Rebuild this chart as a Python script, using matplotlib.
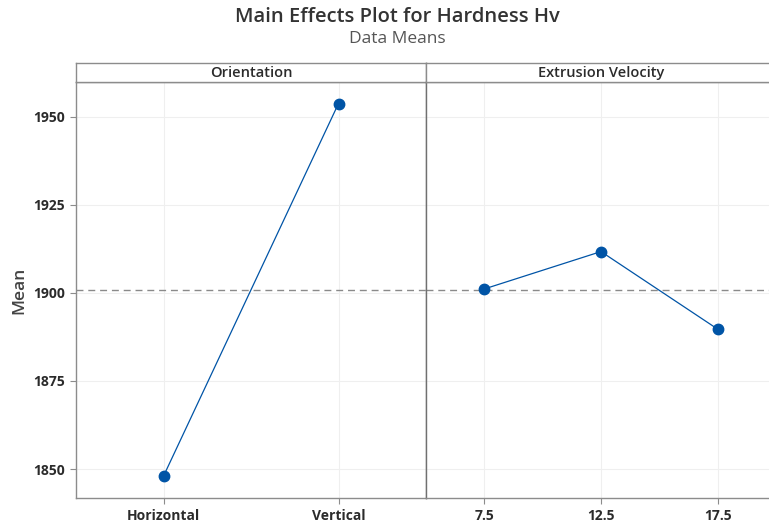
"""Main effects plot for hardness (data means), Minitab style."""

import matplotlib
matplotlib.use("Agg")
import matplotlib.pyplot as plt

plt.rcParams["font.family"] = ["Open Sans", "DejaVu Sans"]

# Data
orientation_levels = ["Horizontal", "Vertical"]
orientation_means = [1848.0, 1953.7]
velocity_levels = ["7.5", "12.5", "17.5"]
velocity_means = [1901.1, 1911.7, 1889.7]
grand_mean = 1900.85
y_ticks = [1850, 1875, 1900, 1925, 1950]

line_color = "#0054A6"
frame_color = "#8c8c8c"
text_color = "#2b2b2b"

fig = plt.figure(figsize=(7.69, 5.25), dpi=100)

W, H = 769, 525
left_px, panel_w = 76, 350
top_px, bottom_px, strip_h = 82, 498, 19

panels = [
    ("Orientation", orientation_levels, orientation_means),
    ("Extrusion Velocity", velocity_levels, velocity_means),
]

for i, (name, levels, means) in enumerate(panels):
    x0 = (left_px + i * panel_w) / W
    ax = fig.add_axes([x0, (H - bottom_px) / H, panel_w / W, (bottom_px - top_px) / H])
    positions = list(range(len(levels)))

    # grand mean reference line
    ax.axhline(grand_mean, color="#8a8a8a", linestyle=(0, (5, 3.5)), linewidth=1.0, zorder=2)
    ax.plot(positions, means, color=line_color, linewidth=0.9, marker="o",
            markersize=7.5, markerfacecolor=line_color, markeredgecolor=line_color, zorder=3)

    ax.set_xlim(-0.5, len(levels) - 0.5)
    ax.set_ylim(1841.8, 1959.8)
    ax.set_xticks(positions)
    ax.set_xticklabels(levels, fontsize=10, fontweight="bold", color=text_color)
    ax.set_yticks(y_ticks)
    ax.grid(True, color="#efefef", linewidth=0.8, zorder=0)
    ax.set_axisbelow(True)
    for spine in ax.spines.values():
        spine.set_color(frame_color)
        spine.set_linewidth(1.0)
    ax.tick_params(axis="both", direction="out", length=4, color=frame_color, pad=4)
    if i == 0:
        ax.set_yticklabels([str(t) for t in y_ticks], fontsize=10,
                           fontweight="bold", color=text_color)
        ax.set_ylabel("Mean", fontsize=12.5, fontweight="semibold", color="#444444", labelpad=4)
    else:
        ax.tick_params(axis="y", left=False, labelleft=False)
        ax.spines["left"].set_color("#707070")

    # strip header above each panel
    sax = fig.add_axes([x0, (H - top_px) / H, panel_w / W, strip_h / H])
    sax.set_xticks([])
    sax.set_yticks([])
    for spine in sax.spines.values():
        spine.set_color(frame_color)
        spine.set_linewidth(1.0)
    sax.text(0.5, 0.45, name, ha="center", va="center", fontsize=10.5,
             fontweight="semibold", color=text_color, transform=sax.transAxes)

fig.text(397 / W, 1 - 17 / H, "Main Effects Plot for Hardness Hv", ha="center", va="center",
         fontsize=14.5, fontweight="semibold", color="#333333")
fig.text(397 / W, 1 - 39 / H, "Data Means", ha="center", va="center",
         fontsize=12.5, color="#555555")

fig.savefig("out.png", dpi=100)
